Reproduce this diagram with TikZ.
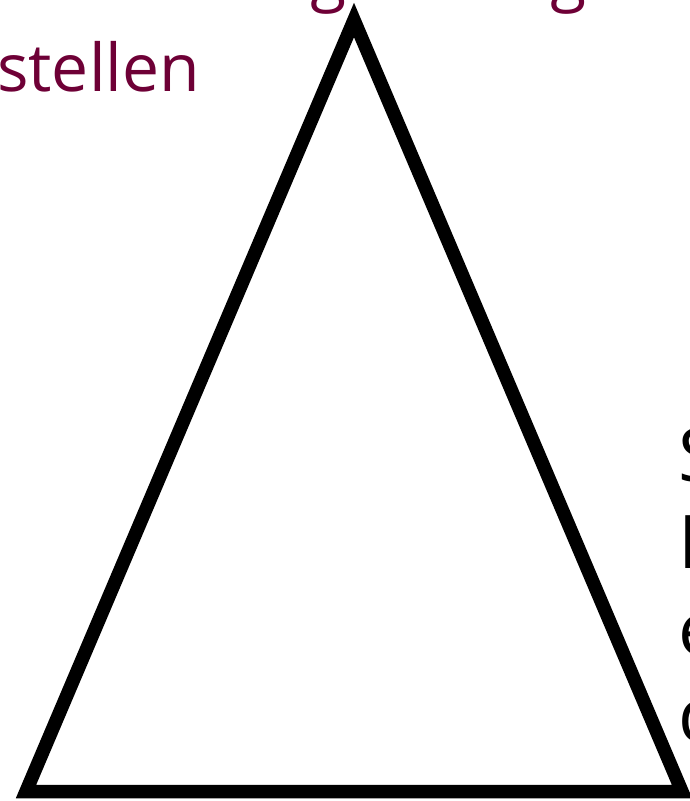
\documentclass[tikz,border=0pt]{standalone}
\usepackage{fontspec}
\newfontfamily\slidefont{Open Sans}
\definecolor{slidered}{RGB}{110,0,54}
\tikzset{
  headline/.style={font=\slidefont\fontsize{66}{80}\selectfont, text=slidered, anchor=base west, inner sep=0pt},
  sidelabel/.style={font=\slidefont\fontsize{74}{88}\selectfont, text=black, anchor=base west, inner sep=0pt},
  outline/.style={draw=black, line width=13.5pt, line join=miter}
}

\begin{document}
\begin{tikzpicture}[x=1pt, y=-1pt]
  \useasboundingbox (0,0) rectangle (690,801);
  \clip (0,0) rectangle (690,801);
  % heading, mostly cut off by the frame
  \node[headline] (head1) at (0,-2) {viele Anliegen ausgewogen dar-};
  \node[headline] (head2) at (-3,91) {stellen};
  % the triangle
  \coordinate (top) at (354,20);
  \coordinate (left) at (26,791.5);
  \coordinate (right) at (682,791.5);
  \draw[outline] (top) -- (left) -- (right) -- cycle;
  % labels of the right corner
  \node[sidelabel] (side1) at (678,481) {Sicherheit};
  \node[sidelabel] (side2) at (678,568) {Preis-};
  \node[sidelabel] (side3) at (678,655) {entwicklung};
  \node[sidelabel] (side4) at (678,741) {d\"ampfen};
\end{tikzpicture}
\end{document}
